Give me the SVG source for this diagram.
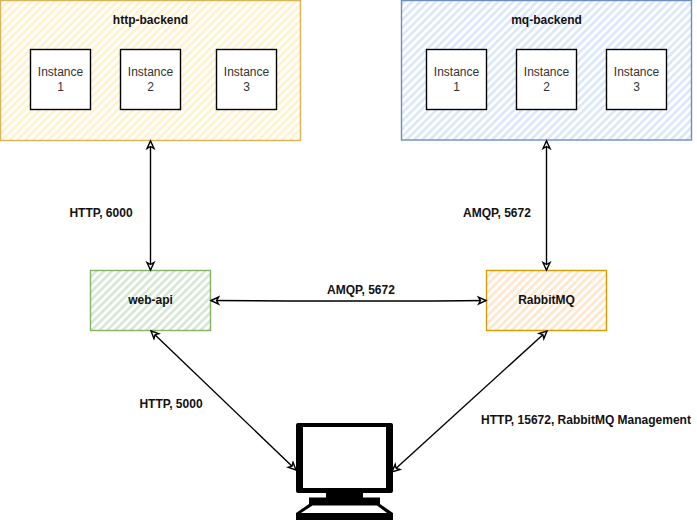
<svg xmlns="http://www.w3.org/2000/svg" width="697" height="521" viewBox="0 0 697 521">
<style>
text{font-family:"Liberation Sans",Arial,sans-serif;font-size:12px;text-anchor:middle;fill:#111}
.b{font-weight:bold}
.t{fill:#333}
.inst{fill:#fff;stroke:#000;stroke-width:1.4}
.link{fill:none;stroke:#000;stroke-width:1.4;marker-start:url(#a);marker-end:url(#a)}
</style>
<defs>
<marker id="a" markerUnits="userSpaceOnUse" markerWidth="12" markerHeight="12" refX="9" refY="5" orient="auto-start-reverse" viewBox="0 0 12 10">
<path d="M1.500 1.500 L9 5 L1.500 8.500 L3.500 5 Z" fill="#fff" stroke="#000" stroke-width="1.4"/>
</marker>
<pattern id="hy" width="5.500" height="5.500" patternUnits="userSpaceOnUse" patternTransform="rotate(-45)"><rect width="5.500" height="5.500" fill="#fff"/><rect width="5.500" height="2.700" fill="#fff2cc"/></pattern>
<pattern id="hb" width="5.500" height="5.500" patternUnits="userSpaceOnUse" patternTransform="rotate(-45)"><rect width="5.500" height="5.500" fill="#fff"/><rect width="5.500" height="2.700" fill="#dae8fc"/></pattern>
<pattern id="hg" width="5.500" height="5.500" patternUnits="userSpaceOnUse" patternTransform="rotate(-45)"><rect width="5.500" height="5.500" fill="#fff"/><rect width="5.500" height="2.700" fill="#d5e8d4"/></pattern>
<pattern id="ho" width="5.500" height="5.500" patternUnits="userSpaceOnUse" patternTransform="rotate(-45)"><rect width="5.500" height="5.500" fill="#fff"/><rect width="5.500" height="2.700" fill="#ffe6cc"/></pattern>
</defs>
<g id="http-backend">
<rect x="0.500" y="0.500" width="300" height="140" fill="url(#hy)" stroke="#d6b656" stroke-width="1.4"/>
<text class="b" x="150.500" y="24">http-backend</text>
<rect class="inst" x="30.500" y="49.500" width="60" height="60"/><text class="t" x="60.500" y="76">Instance</text><text class="t" x="60.500" y="91">1</text>
<rect class="inst" x="120.500" y="49.500" width="60" height="60"/><text class="t" x="150.500" y="76">Instance</text><text class="t" x="150.500" y="91">2</text>
<rect class="inst" x="216.500" y="49.500" width="60" height="60"/><text class="t" x="246.500" y="76">Instance</text><text class="t" x="246.500" y="91">3</text>
</g>
<g id="mq-backend">
<rect x="401.500" y="0.500" width="290" height="139.500" fill="url(#hb)" stroke="#6c8ebf" stroke-width="1.4"/>
<text class="b" x="546.500" y="24">mq-backend</text>
<rect class="inst" x="426.500" y="49.500" width="60" height="60"/><text class="t" x="456.500" y="76">Instance</text><text class="t" x="456.500" y="91">1</text>
<rect class="inst" x="516.500" y="49.500" width="60" height="60"/><text class="t" x="546.500" y="76">Instance</text><text class="t" x="546.500" y="91">2</text>
<rect class="inst" x="606.500" y="49.500" width="60" height="60"/><text class="t" x="636.500" y="76">Instance</text><text class="t" x="636.500" y="91">3</text>
</g>
<g id="web-api">
<rect x="90.500" y="270.500" width="120" height="60" fill="url(#hg)" stroke="#82b366" stroke-width="1.4"/>
<text class="b" x="150.500" y="304">web-api</text>
</g>
<g id="rabbitmq">
<rect x="486.500" y="270.500" width="120" height="60" fill="url(#ho)" stroke="#d79b00" stroke-width="1.4"/>
<text class="b" x="546.500" y="304">RabbitMQ</text>
</g>
<g id="computer">
<path fill-rule="evenodd" d="M298 423 H391 Q393 423 393 425 V491 Q393 493 391 493 H363 V497.500 H380 V504 L393 513 V520 H296 V513 L309 504 V497.500 H326 V493 H298 Q296 493 296 491 V425 Q296 423 298 423 Z M303 427 V488 H386 V427 Z M312.500 505.500 L301 513 H387 L377 505.500 Z" fill="#000"/>
</g>
<g id="connectors">
<path class="link" d="M150.500 141 L150.500 270"/>
<path class="link" d="M546.500 141 L546.500 270"/>
<path class="link" d="M211 300.500 C300 301 400 301.500 486 300.500"/>
<path class="link" d="M151 331 L296 470"/>
<path class="link" d="M547 331 L392 472"/>
<text class="b" x="101" y="217">HTTP, 6000</text>
<text class="b" x="497" y="217">AMQP, 5672</text>
<text class="b" x="361" y="294">AMQP, 5672</text>
<text class="b" x="171" y="408">HTTP, 5000</text>
<text class="b" x="586" y="424">HTTP, 15672, RabbitMQ Management</text>
</g>
</svg>
